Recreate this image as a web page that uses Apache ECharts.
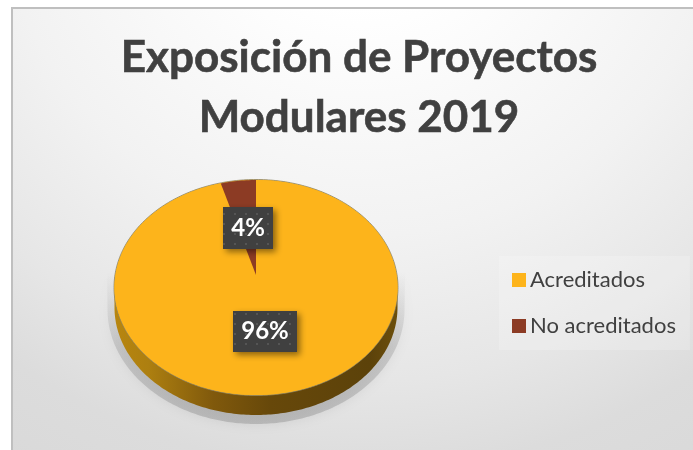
<!DOCTYPE html>
<html>
<head>
<meta charset="utf-8">
<style>
  html, body { margin: 0; padding: 0; background: #fff; }
  #chart { width: 693px; height: 450px; }
</style>
<script src="https://cdn.jsdelivr.net/npm/echarts@6/dist/echarts.min.js"></script>
</head>
<body>
<div id="chart"></div>
<script>
// datos
const categories = ['Acreditados', 'No acreditados'];
const values = [96, 4];
const colors = ['#FDB41B', '#8C3B24'];
const titleLines = ['Exposición de Proyectos', 'Modulares 2019'];

// la "perspectiva" del pie de Excel: elipse con el vertice corrido hacia arriba
const pie = { cx: 256, cy: 287.5, rx: 141.5, ry: 107.5, apexY: 275, depth: 20 };
const labelCenters = [[265, 331.5], [248, 228]];
const labelSizes = [[64, 41], [50, 42]];

const total = values.reduce((a, b) => a + b, 0);
const starts = values.map((v, i) => values.slice(0, i).reduce((a, b) => a + b, 0));

function rimPoint(deg, dy, grow) {
    const t = deg * Math.PI / 180;
    return [
        pie.cx + (pie.rx + (grow || 0)) * Math.sin(t),
        pie.cy + (dy || 0) - (pie.ry + (grow || 0)) * Math.cos(t)
    ];
}

function arcPoints(from, to, dy, grow) {
    const pts = [];
    const steps = Math.max(2, Math.ceil(Math.abs(to - from)));
    for (let i = 0; i <= steps; i++) {
        pts.push(rimPoint(from + (to - from) * i / steps, dy, grow));
    }
    return pts;
}

// trama de puntitos de las etiquetas
function labelPattern() {
    const c = document.createElement('canvas');
    c.width = 11;
    c.height = 10;
    const g = c.getContext('2d');
    g.fillStyle = '#404040';
    g.fillRect(0, 0, 11, 10);
    g.fillStyle = '#555555';
    g.fillRect(3, 3, 2, 2);
    return c;
}
const pattern = labelPattern();

function renderSlice(i) {
    return function (params, api) {
        const from = api.value(1) / total * 360;
        const to = (api.value(1) + api.value(0)) / total * 360;
        const points = [[pie.cx, pie.apexY]].concat(arcPoints(from, to));
        const [lx, ly] = labelCenters[i];
        const [lw, lh] = labelSizes[i];
        return {
            type: 'group',
            children: [
                {
                    type: 'polygon',
                    shape: { points: points },
                    style: { fill: colors[i] }
                },
                {
                    type: 'rect',
                    shape: { x: lx - lw / 2, y: ly - lh / 2, width: lw, height: lh },
                    style: {
                        fill: { image: pattern, repeat: 'repeat' },
                        shadowColor: 'rgba(0,0,0,0.45)',
                        shadowBlur: 6,
                        shadowOffsetX: 3,
                        shadowOffsetY: 3
                    }
                },
                {
                    type: 'text',
                    x: lx,
                    y: ly,
                    style: {
                        text: Math.round(api.value(0) / total * 100) + '%',
                        fill: '#fff',
                        font: 'bold 24px Lato, sans-serif',
                        align: 'center',
                        verticalAlign: 'middle'
                    }
                }
            ]
        };
    };
}

function renderBase() {
    const lower = arcPoints(90, 270, pie.depth);
    const side = arcPoints(270, 90).concat(lower);
    const shadowPts = [[pie.cx - 149, 272], [pie.cx + 149, 272]].concat(arcPoints(90, 270, 22, 7));
    return {
        type: 'group',
        children: [
            {
                type: 'polygon',
                shape: { points: shadowPts },
                style: {
                    fill: {
                        type: 'linear', x: 0, y: 0, x2: 0, y2: 1,
                        colorStops: [
                            { offset: 0, color: 'rgba(130,130,130,0)' },
                            { offset: 0.5, color: 'rgba(130,130,130,0.28)' },
                            { offset: 1, color: 'rgba(130,130,130,0.38)' }
                        ]
                    },
                    shadowColor: 'rgba(130,130,130,0.5)',
                    shadowBlur: 12
                }
            },
            {
                type: 'polygon',
                shape: { points: side },
                style: {
                    fill: {
                        type: 'linear', x: 0, y: 0, x2: 1, y2: 0,
                        colorStops: [
                            { offset: 0, color: '#B8860F' },
                            { offset: 0.12, color: '#AD7F10' },
                            { offset: 0.35, color: '#80590C' },
                            { offset: 0.55, color: '#67480A' },
                            { offset: 0.9, color: '#5C420A' },
                            { offset: 1, color: '#6C4F0C' }
                        ]
                    }
                }
            },
            {
                type: 'polygon',
                shape: { points: arcPoints(0, 360, 0, 0.5) },
                style: { fill: colors[0], stroke: '#8A8468', lineWidth: 0.8 }
            }
        ]
    };
}

const series = [{
    type: 'custom',
    name: 'base',
    coordinateSystem: 'none',
    silent: true,
    z: 1,
    renderItem: renderBase,
    data: [[total]]
}].concat(categories.map((name, i) => ({
    type: 'custom',
    name: name,
    coordinateSystem: 'none',
    z: 2 + i,
    itemStyle: { color: colors[i] },
    renderItem: renderSlice(i),
    data: [[values[i], starts[i]]]
})));

const chart = echarts.init(document.getElementById('chart'), null, { renderer: 'canvas' });
chart.setOption({
    animation: false,
    title: {
        text: titleLines.join('\n'),
        left: 354,
        top: 23,
        textAlign: 'center',
        textStyle: {
            fontFamily: 'Lato, sans-serif',
            fontWeight: 'bold',
            fontSize: 44,
            lineHeight: 60,
            color: '#404040',
            textBorderColor: '#404040',
            textBorderWidth: 0.6
        }
    },
    legend: {
        data: categories,
        orient: 'vertical',
        left: 499,
        top: 256,
        width: 191,
        padding: [13, 14, 13, 13],
        itemGap: 24,
        itemWidth: 14,
        itemHeight: 14,
        icon: 'rect',
        backgroundColor: 'rgba(255,255,255,0.2)',
        textStyle: {
            fontFamily: 'Lato, sans-serif',
            fontSize: 22,
            color: '#404040',
            padding: [-2, 0, 0, -1]
        }
    },
    graphic: [{
        type: 'rect',
        silent: true,
        z: -10,
        shape: { x: 12, y: 8, width: 700, height: 460 },
        style: {
            stroke: '#BFBFBF',
            lineWidth: 2,
            fill: {
                type: 'radial', x: 0.5, y: -0.3, r: 1.5,
                colorStops: [
                    { offset: 0.2, color: '#FFFFFF' },
                    { offset: 0.53, color: '#F2F2F2' },
                    { offset: 0.74, color: '#E6E6E6' },
                    { offset: 0.87, color: '#DCDCDC' },
                    { offset: 1, color: '#D9D9D9' }
                ]
            }
        }
    }],
    series: series
});
</script>
</body>
</html>
